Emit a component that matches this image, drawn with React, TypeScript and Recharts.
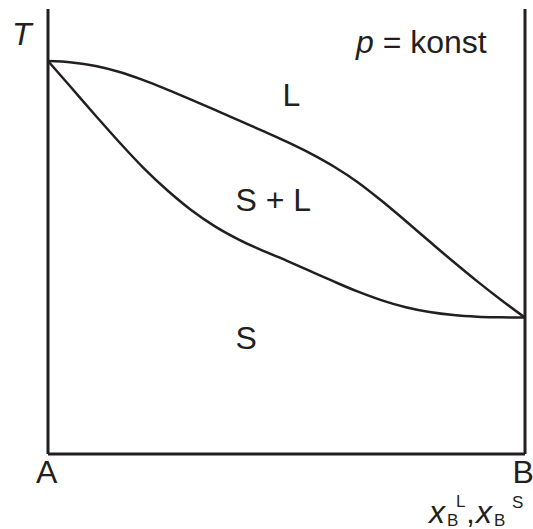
import { LineChart, Line, XAxis, YAxis, ReferenceLine, Customized } from 'recharts'

// mole fraction of B (0 = pure A, 1 = pure B)
const xB = [0, 0.05, 0.1, 0.15, 0.2, 0.25, 0.3, 0.35, 0.4, 0.45, 0.5, 0.55, 0.6, 0.65, 0.7, 0.75, 0.8, 0.85, 0.9, 0.95, 1]
// temperature, arbitrary units (0 = bottom of the frame)
const liquidus = [88.31, 88.0, 87.19, 85.84, 84.02, 81.89, 79.64, 77.33, 74.97, 72.61, 70.2, 67.57, 64.56, 61.03, 56.85, 52.36, 47.75, 43.19, 38.79, 34.61, 30.65]
const solidus = [88.31, 82.18, 76.02, 70.0, 64.31, 59.26, 54.83, 51.15, 48.18, 45.71, 43.46, 41.1, 38.72, 36.47, 34.52, 32.97, 31.89, 31.21, 30.85, 30.72, 30.65]

const data = xB.map((x, i) => ({ x, liquidus: liquidus[i], solidus: solidus[i] }))

const ink = '#231f20'
const font = '"Liberation Sans", Arial, sans-serif'

function Labels() {
  return (
    <g fontFamily={font} fill={ink}>
      <text x={12} y={45} fontSize={32} fontStyle="italic">T</text>
      <text x={356} y={53} fontSize={32}>
        <tspan fontStyle="italic">p</tspan> = konst
      </text>
      <text x={282.5} y={106} fontSize={32}>L</text>
      <text x={235.5} y={211} fontSize={32}>S + L</text>
      <text x={235.5} y={349} fontSize={32}>S</text>
      <text x={46.7} y={483} fontSize={32} textAnchor="middle">A</text>
      <text x={512.5} y={483} fontSize={32}>B</text>
      <text x={429} y={523} fontSize={32} fontStyle="italic">x</text>
      <text x={447} y={526} fontSize={17}>B</text>
      <text x={456} y={507} fontSize={17}>L</text>
      <text x={466} y={523} fontSize={32}>,</text>
      <text x={476} y={523} fontSize={32} fontStyle="italic">x</text>
      <text x={494} y={526} fontSize={17}>B</text>
      <text x={512} y={508} fontSize={17}>S</text>
    </g>
  )
}

export default function App() {
  return (
    <div style={{ position: 'absolute', left: 0, top: 0, background: '#fff' }}>
      <LineChart width={533} height={529} data={data} margin={{ top: 9, right: 8, left: 48, bottom: 75 }}>
        <XAxis dataKey="x" type="number" domain={[0, 1]} hide />
        <YAxis type="number" domain={[0, 100]} hide />
        <ReferenceLine x={0} stroke={ink} strokeWidth={3} />
        <ReferenceLine x={1} stroke={ink} strokeWidth={3} />
        <ReferenceLine y={0} stroke={ink} strokeWidth={3} />
        <Line type="monotone" dataKey="liquidus" stroke={ink} strokeWidth={2.5} dot={false} isAnimationActive={false} />
        <Line type="monotone" dataKey="solidus" stroke={ink} strokeWidth={2.5} dot={false} isAnimationActive={false} />
        <Customized component={Labels} />
      </LineChart>
    </div>
  )
}
